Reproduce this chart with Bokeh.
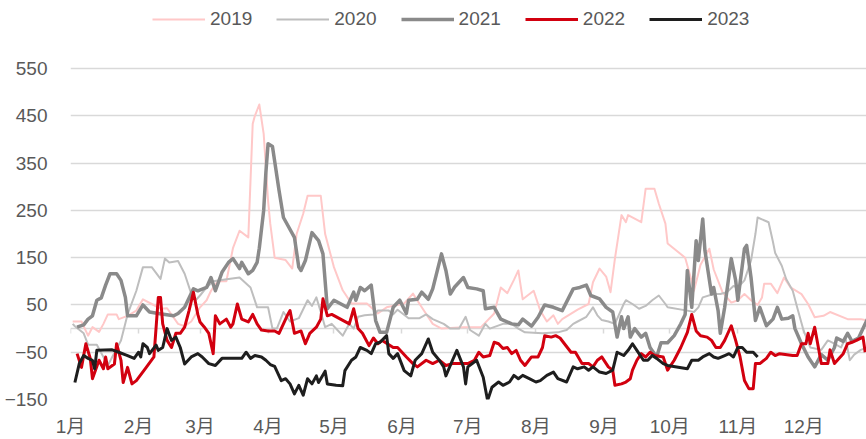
from bokeh.plotting import figure
from bokeh.models import Range1d, FixedTicker, LinearAxis, Legend, LegendItem
from bokeh.core.properties import value
from bokeh.embed import file_html
from bokeh.resources import INLINE

# ---- data (x = day of year, 0 = 1 Jan) ----
month_ticks = [0, 31, 59, 90, 120, 151, 181, 212, 243, 273, 304, 334]
month_labels = ["1月", "2月", "3月", "4月", "5月", "6月", "7月", "8月", "9月", "10月", "11月", "12月"]
y_ticks = [-150, -50, 50, 150, 250, 350, 450, 550]

days_2019 = [1,5,8,10,13,15,17,21,22,26,30,33,37,41,44,49,52,55,59,62,64,67,71,74,77,81,83,84,86,88,90,91,93,98,101,103,106,108,114,116,120,124,128,135,140,144,152,156,160,165,169,179,187,193,196,199,202,204,206,211,214,217,220,222,224,231,236,238,241,244,246,248,251,253,254,260,262,266,268,271,272,280,283,284,287,291,293,297,301,304,307,310,313,315,316,319,322,325,328,333,336,339,343,346,354,360,362]
vals_2019 = [15,15,-15,3,-7,10,30,30,20,27,38,62,52,42,43,10,5,15,45,60,80,100,100,170,207,193,433,450,474,412,270,222,150,145,127,200,243,281,281,200,130,81,53,53,32,45,53,74,45,10,0,3,3,32,87,75,103,123,62,80,38,15,28,10,20,40,52,98,127,110,77,148,240,225,240,225,296,296,264,222,180,150,100,80,135,169,125,77,55,60,73,60,50,66,95,95,75,108,87,73,52,24,27,35,20,20,18]

days_2020 = [1,2,6,8,12,15,17,19,23,26,30,33,37,41,43,45,49,52,55,57,59,62,65,72,77,82,85,90,92,94,97,100,104,108,110,112,114,116,119,122,124,127,129,131,134,138,140,145,147,149,154,159,162,165,170,173,177,180,182,186,189,191,197,201,204,207,215,222,226,229,231,235,238,240,242,245,248,252,253,256,259,262,265,268,271,272,281,284,286,288,293,296,299,302,304,307,310,312,313,318,320,321,324,326,329,331,334,337,342,345,348,351,353,355,357,360,363]
vals_2020 = [10,5,-10,-34,-34,-60,-78,-60,-25,30,80,130,130,105,148,140,143,116,74,60,70,87,100,105,108,87,45,45,0,0,35,15,22,60,48,66,35,3,10,-5,-15,10,0,25,28,30,38,38,30,40,22,22,30,20,10,0,0,25,-3,-15,10,0,10,10,0,-8,-10,-8,-3,10,15,25,45,28,18,15,10,52,60,52,42,48,60,70,52,45,38,35,45,66,73,73,77,90,87,102,144,200,235,225,183,160,133,105,80,45,-5,-40,-45,-25,-32,-40,-20,-67,-55,-45,-40]

days_2021 = [3,6,8,10,12,14,16,18,21,23,25,26,30,33,36,40,47,49,52,56,58,62,64,66,69,72,74,77,78,81,83,85,86,88,89,90,92,95,97,102,104,105,107,110,113,115,117,120,126,129,130,132,134,137,139,141,144,147,150,153,154,158,160,163,165,169,171,173,175,179,181,185,188,189,193,196,201,204,206,210,213,216,220,224,229,232,235,237,241,244,247,249,251,252,254,255,257,260,262,264,267,269,272,275,278,280,281,283,285,286,288,289,292,293,295,296,298,301,303,304,307,308,310,312,314,317,320,322,324,327,329,330,333,336,339,342,345,348,349,352,354,356,359,361,363]
vals_2021 = [3,8,20,27,60,65,92,116,116,102,66,27,27,50,35,32,27,32,45,84,80,87,108,80,119,140,148,127,140,116,123,140,170,250,330,391,385,292,235,193,130,123,144,203,186,158,42,60,45,77,60,87,80,92,17,-8,-8,45,60,32,60,62,77,62,84,158,123,73,88,108,87,84,80,42,45,20,10,8,20,5,24,50,45,38,84,87,92,70,63,45,35,-18,25,0,25,-18,0,-18,-10,-40,-60,-30,-30,-15,10,30,123,45,186,144,232,165,73,87,38,-10,45,148,102,60,169,176,108,17,45,6,20,45,20,22,27,0,-32,-60,-81,-55,-67,-40,-20,-27,-10,-27,-20,0,20]

days_2022 = [3,5,7,9,10,13,15,16,17,20,21,23,24,26,28,30,34,38,40,41,42,44,46,48,50,52,54,56,58,59,61,63,65,66,68,71,73,74,76,78,81,83,85,87,90,93,95,99,100,102,105,107,109,112,114,115,117,119,123,127,129,131,133,136,138,140,142,147,149,153,156,158,162,165,168,171,174,181,184,186,188,191,193,195,197,199,201,203,205,207,210,213,215,216,219,221,223,225,228,230,233,236,238,240,242,245,247,248,251,253,255,256,258,260,262,264,266,270,272,275,278,281,283,285,287,290,292,294,296,298,301,303,305,307,309,311,312,314,317,319,321,323,329,331,333,335,336,337,339,342,345,346,348,352,354,356,358,361,362]
vals_2022 = [-53,-82,-32,-63,-106,-67,-85,-60,-85,-75,-32,-67,-114,-82,-117,-110,-85,-60,66,66,10,-25,-40,-10,-10,3,38,77,30,14,3,-10,-53,27,10,20,3,10,52,20,14,30,10,-3,-5,-5,-10,30,38,-10,-5,-32,-10,3,20,63,27,30,20,10,42,0,-10,-36,-20,-32,-25,-40,-40,-60,-74,-81,-67,-74,-67,-78,-74,-74,-67,-50,-60,-57,-29,-32,-42,-40,-53,-46,-67,-78,-60,-60,-40,-15,-18,-15,-20,-32,-50,-50,-74,-74,-81,-67,-60,-81,-88,-120,-117,-113,-106,-88,-67,-53,-60,-50,-57,-60,-88,-67,-40,-8,30,-5,-15,-18,-25,-40,-40,-25,6,-25,-60,-110,-127,-127,-74,-74,-63,-50,-57,-53,-57,-57,-32,-32,-10,-32,3,-74,-74,-45,-74,-53,-32,-29,-25,-18,-50]

days_2023 = [2,4,6,8,10,11,12,19,22,26,29,31,32,33,35,36,39,40,42,44,46,48,50,52,55,58,60,63,66,69,78,80,82,84,87,89,91,93,96,98,100,102,104,106,108,110,112,113,116,117,121,124,125,128,130,132,135,137,139,141,144,145,147,149,152,155,157,160,163,165,168,170,171,174,176,179,180,181,185,188,190,192,195,197,200,202,204,206,209,212,214,217,220,222,226,229,231,234,236,238,241,244,247,249,252,254,256,258,261,263,265,267,270,272,281,283,286,288,291,293,295,298,300,302,304,306,308,311,313]
vals_2023 = [-114,-74,-57,-63,-67,-85,-46,-45,-50,-57,-63,-50,-60,-32,-40,-53,-35,-46,-40,0,-25,-18,-40,-75,-60,-53,-60,-74,-78,-63,-63,-50,-63,-57,-60,-67,-76,-80,-110,-106,-117,-138,-120,-141,-106,-117,-100,-114,-90,-117,-120,-121,-89,-67,-60,-40,-46,-53,-32,-29,-15,-53,-63,-53,-89,-100,-67,-53,-22,-50,-67,-81,-100,-67,-46,-81,-117,-81,-67,-103,-152,-124,-113,-120,-113,-99,-106,-99,-106,-113,-110,-99,-92,-106,-113,-81,-85,-81,-88,-81,-92,-95,-88,-50,-57,-46,-32,-46,-67,-67,-57,-63,-74,-78,-85,-67,-67,-60,-53,-60,-63,-57,-53,-60,-40,-40,-50,-50,-60]

series = [
    ("2019", days_2019, vals_2019, "#FFC8C8", 2.0),
    ("2020", days_2020, vals_2020, "#BEBEBE", 2.0),
    ("2021", days_2021, vals_2021, "#8A8A8A", 3.5),
    ("2022", days_2022, vals_2022, "#D2000F", 3.0),
    ("2023", days_2023, vals_2023, "#1E1E1E", 3.0),
]

FONT = "Liberation Sans"
TXT = "#595959"

p = figure(width=866, height=439, output_backend="svg", toolbar_location=None,
           x_range=Range1d(0, 362.6), y_range=Range1d(-150, 694),
           x_axis_location=None, min_border_left=70, min_border_right=0,
           min_border_top=0, min_border_bottom=40)
p.outline_line_color = None
p.background_fill_color = "white"

# y axis
ya = p.yaxis[0]
ya.ticker = FixedTicker(ticks=y_ticks)
ya.axis_line_color = None
ya.major_tick_line_color = None
ya.minor_tick_line_color = None
ya.major_label_standoff = 17
ya.major_label_text_font = FONT
ya.major_label_text_font_size = "19px"
ya.major_label_text_color = TXT
ya.major_label_overrides = {t: (str(t).replace("-", "\u2212")) for t in y_ticks}

p.ygrid.grid_line_color = "#D9D9D9"
p.ygrid.grid_line_width = 1.5
p.xgrid.grid_line_color = None

# axis line at zero with month tick marks
zero_axis = LinearAxis(fixed_location=0, ticker=FixedTicker(ticks=month_ticks),
                       axis_line_color="#D9D9D9", axis_line_width=1.5,
                       major_tick_line_color="#D9D9D9", major_tick_line_width=1.5,
                       major_tick_out=5, major_tick_in=0, minor_tick_line_color=None,
                       major_label_overrides={t: "" for t in month_ticks},
                       major_label_text_font_size="1px", level="underlay")
p.add_layout(zero_axis, "below")

# month labels at the bottom
label_axis = LinearAxis(ticker=FixedTicker(ticks=month_ticks),
                        axis_line_color=None, major_tick_line_color=None,
                        major_tick_out=0, major_tick_in=0,
                        minor_tick_line_color=None, major_label_standoff=16,
                        major_label_overrides=dict(zip(month_ticks, month_labels)),
                        major_label_text_font=FONT + ", Noto Sans CJK SC",
                        major_label_text_font_size="19px",
                        major_label_text_color=TXT)
p.add_layout(label_axis, "below")

items = []
for name, xs, ys, color, w in series:
    r = p.line(xs, ys, line_color=color, line_width=w, line_join="round")
    items.append(LegendItem(label=value(name), renderers=[r]))

legend = Legend(items=items, orientation="horizontal", location=(82, 369),
                glyph_width=53, glyph_height=20, label_standoff=5, spacing=24,
                label_text_font=FONT, label_text_font_size="19px",
                label_text_color=TXT, label_height=20,
                border_line_color=None, background_fill_alpha=0,
                padding=0, margin=0)
p.add_layout(legend, "center")

open("out.html", "w").write(file_html(p, INLINE))
